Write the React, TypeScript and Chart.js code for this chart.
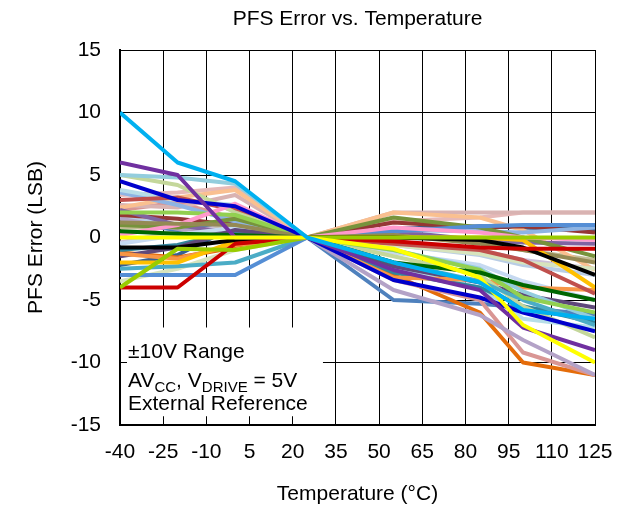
import { useEffect, useRef } from 'react';
import { Chart, registerables } from 'chart.js';

Chart.register(...registerables);

const FONT = '"Liberation Sans", Arial, Helvetica, sans-serif';

const TITLE = 'PFS Error vs. Temperature';
const X_TITLE = 'Temperature (°C)';
const Y_TITLE = 'PFS Error (LSB)';
const INFO_LINE1 = '±10V Range';
const INFO_LINE3 = 'External Reference';

const X_MIN = -40;
const X_MAX = 125;
const X_STEP = 15;
const Y_MIN = -15;
const Y_MAX = 15;
const Y_STEP = 5;

// measurement temperatures (°C)
const TEMPS = [-40, -20, 0, 25, 55, 85, 100, 125];

// PFS error (LSB) per device, one value per temperature
const S01 = [1.6, 1.0, 0.4, 0, -0.6, -1.4, -2.2, -3.0];
const S02 = [0.8, 0.8, 0.7, 0, 0.3, -0.3, -1.0, -1.8];
const S03 = [-0.4, 0.5, 1.2, 0, -0.3, -1.0, -1.8, -2.5];
const S04 = [1.2, 0.6, 1.4, 0, -5.0, -5.3, -5.6, -6.2];
const S05 = [-2.2, -1.4, 0.9, 0, 0.7, 0.9, 0.8, 0.6];
const S06 = [-1.2, -1.6, -0.8, 0, -3.0, -6.0, -10.0, -11.0];
const S07 = [2.2, 2.8, 1.5, 0, -3.4, -5.0, -9.2, -11.0];
const S08 = [1.5, 0.7, 0.4, 0, -4.2, -6.2, -8.2, -11.0];
const S09 = [3.4, 3.6, 4.0, 0, 1.3, 1.6, 2.0, 2.0];
const S10 = [2.6, 2.4, 3.4, 0, 2.0, 2.0, 2.0, 2.0];
const S11 = [2.4, 3.2, 3.8, 0, 2.0, 1.6, 0.6, -2.6];
const S12 = [1.8, 1.5, 1.0, 0, 1.2, 0.8, 0.9, 0.4];
const S13 = [2.2, 1.0, 0.3, 0, 0.5, -0.2, -0.4, -0.5];
const S14 = [3.6, 2.6, 1.3, 0, 0.6, 0.5, 0.4, 0.8];
const S15 = [1.0, 0.8, 1.5, 0, 1.6, 0.8, 0.0, -1.5];
const S16 = [3.8, 3.0, 2.6, 0, -2.5, -4.0, -6.5, -7.2];
const S17 = [-0.5, 0.2, 0.8, 0, -1.2, -2.2, -3.5, -5.0];
const S18 = [-1.0, -0.6, 0.5, 0, -2.8, -4.0, -5.5, -6.8];
const S19 = [-3.5, -2.5, -1.0, 0, -0.6, -1.3, -2.0, -2.5];
const S20 = [-1.5, -0.8, 0.6, 0, -2.3, -3.6, -4.6, -5.6];
const S21 = [-1.3, -1.7, -0.6, 0, -3.2, -3.4, -4.0, -4.2];
const S22 = [3.0, 3.2, 2.2, 0, -0.5, -1.0, -1.8, -4.5];
const S23 = [5.0, 4.2, 2.0, 0, -1.5, -3.0, -5.5, -8.0];
const S24 = [5.0, 4.8, 4.3, 0, -1.0, -2.5, -4.3, -6.5];
const S25 = [-2.5, -2.3, -2.0, 0, -2.0, -3.5, -5.0, -7.0];
const S26 = [2.0, 2.0, 1.8, 0, -1.0, -2.6, -4.8, -6.0];
const S27 = [-3.0, -3.0, -3.0, 0, 0.5, 0.9, 1.0, 1.0];
const S28 = [0.2, 1.0, 2.7, 0, 0.8, 0.4, 0.0, -0.2];
const S29 = [1.2, 1.1, 1.0, 0, 0.2, -0.5, -1.0, -2.0];
const S30 = [0.5, 0.3, 0.2, 0, -2.0, -2.8, -3.8, -5.0];
const S31 = [-2.0, -2.0, -0.3, 0, 0.0, 0.0, -0.2, -4.0];
const S32 = [-0.8, -0.8, -0.2, 0, 0.0, -0.2, -0.8, -3.0];
const S33 = [-4.0, -4.0, -0.5, 0, -0.3, -0.8, -0.9, -0.9];
const S34 = [-4.0, -0.9, -1.0, 0, 0.0, 0.0, 0.0, 0.0];
const S35 = [4.5, 3.0, 2.5, 0, -3.4, -4.8, -6.0, -7.5];
const S36 = [6.0, 5.0, 0.0, 0, -2.6, -4.2, -7.2, -9.0];
const S37 = [0.0, 0.0, 0.0, 0, -0.9, -3.2, -7.0, -10.0];
const S38 = [10.0, 6.0, 4.5, 0, -2.0, -3.6, -5.8, -6.5];

const SERIES = [
  S01, S02, S03, S04, S05, S06, S07, S08, S09, S10,
  S11, S12, S13, S14, S15, S16, S17, S18, S19, S20,
  S21, S22, S23, S24, S25, S26, S27, S28, S29, S30,
  S31, S32, S33, S34, S35, S36, S37, S38,
];

const COLORS = [
  '#B9CDE5', '#C4BD97', '#CCC1DA', '#4F81BD', '#376092', '#E46C0A', '#D99694', '#B3A2C7', '#E6B9B8', '#D9B3B2',
  '#FAC090', '#953735', '#8064A2', '#8EB4E3', '#77933C', '#B7DEE8', '#C6D9F1', '#31859C', '#D7E4BD', '#5F497A',
  '#F79646', '#C0504D', '#C4D79B', '#93CDDD', '#4BACC6', '#92D050', '#558ED5', '#FF99CC', '#948A54', '#006600',
  '#FFC000', '#000000', '#CC0000', '#99CC00', '#0000CC', '#7030A0', '#FFFF00', '#00B0F0',
];

const infoBox = {
  id: 'infoBox',
  afterDraw(chart: any) {
    const { ctx, chartArea } = chart;
    const x = chart.scales.x;
    const y = chart.scales.y;
    const left = chartArea.left + 7;
    const right = x.getPixelForValue(30.5);
    const top = y.getPixelForValue(-7.2);
    const bottom = y.getPixelForValue(-14.3);
    ctx.save();
    ctx.fillStyle = '#ffffff';
    ctx.fillRect(left, top, right - left, bottom - top);
    ctx.fillStyle = '#000000';
    ctx.textAlign = 'left';
    ctx.textBaseline = 'alphabetic';
    const big = `21px ${FONT}`;
    const small = `15px ${FONT}`;
    const tx = left + 1;
    ctx.font = big;
    ctx.fillText(INFO_LINE1, tx, top + 30);
    const runs: [string, boolean][] = [['AV', false], ['CC', true], [', V', false], ['DRIVE', true], [' = 5V', false]];
    let cx = tx;
    for (const [t, sub] of runs) {
      ctx.font = sub ? small : big;
      ctx.fillText(t, cx, top + 59 + (sub ? 5 : 0));
      cx += ctx.measureText(t).width;
    }
    ctx.font = big;
    ctx.fillText(INFO_LINE3, tx, top + 82);
    ctx.restore();
  },
};

export default function App() {
  const ref = useRef<HTMLCanvasElement>(null);
  useEffect(() => {
    const n = SERIES.length;
    const datasets = SERIES.map((vals, i) => ({
      label: `Device ${i + 1}`,
      data: TEMPS.map((t, k) => ({ x: t, y: vals[k] })),
      borderColor: COLORS[i],
      backgroundColor: COLORS[i],
      borderWidth: 4,
      pointRadius: 0,
      tension: 0,
      fill: false,
      borderJoinStyle: 'round' as const,
      order: n - i,
    }));
    const font = { family: FONT, size: 21 };
    const chart = new Chart(ref.current as HTMLCanvasElement, {
      type: 'line',
      data: { datasets },
      plugins: [infoBox],
      options: {
        animation: false,
        responsive: false,
        devicePixelRatio: 1,
        layout: { padding: { left: 0, right: 26, top: 0, bottom: 0 } },
        plugins: {
          legend: { display: false },
          tooltip: { enabled: false },
          title: {
            display: true,
            text: TITLE,
            fullSize: false,
            color: '#000',
            font: { family: FONT, size: 21, weight: 'normal' },
            padding: { top: 6.4, bottom: 18.4 },
          },
        },
        scales: {
          x: {
            type: 'linear',
            min: X_MIN,
            max: X_MAX,
            ticks: { stepSize: X_STEP, padding: 14.4, color: '#000', font, maxRotation: 0, autoSkip: false },
            grid: { color: '#000', lineWidth: 1, drawTicks: false },
            border: { color: '#000', width: 2 },
            title: { display: true, text: X_TITLE, color: '#000', font, padding: { top: 0, bottom: 2.4 } },
            afterFit(s: any) { s.height = 84; s.paddingLeft = 0; s.paddingRight = 0; },
          },
          y: {
            type: 'linear',
            min: Y_MIN,
            max: Y_MAX,
            ticks: { stepSize: Y_STEP, padding: 19, color: '#000', font },
            grid: { color: '#000', lineWidth: 1, drawTicks: false },
            border: { color: '#000', width: 2 },
            title: { display: true, text: Y_TITLE, color: '#000', font, padding: { top: 23.4, bottom: 0 } },
            afterFit(s: any) { s.width = 120; s.paddingTop = 0; s.paddingBottom = 0; },
          },
        },
      },
    });
    return () => chart.destroy();
  }, []);
  return (
    <div style={{ position: 'absolute', left: 0, top: 0, width: 621, height: 509, background: '#fff' }}>
      <canvas ref={ref} width={621} height={509} style={{ display: 'block', width: 621, height: 509 }} />
    </div>
  );
}
